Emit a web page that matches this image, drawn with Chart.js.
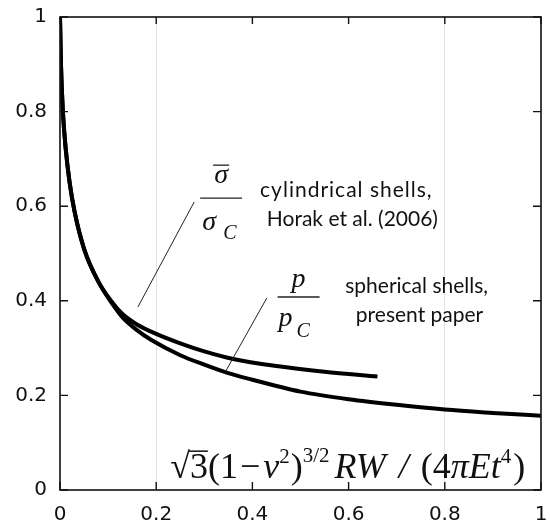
<!DOCTYPE html>
<html>
<head>
<meta charset="utf-8">
<script src="https://cdn.jsdelivr.net/npm/chart.js@4"></script>
<style>
  html, body { margin: 0; padding: 0; background: #fff; }
  #wrap { width: 550px; height: 530px; }
</style>
</head>
<body>
<div id="wrap"><canvas id="shellChart"></canvas></div>
<script>
// values
const xCyl = [0, 0.002, 0.006, 0.012, 0.02, 0.03, 0.05, 0.08, 0.11, 0.13, 0.16, 0.2, 0.25, 0.3, 0.36, 0.45, 0.55, 0.66];
const yCyl = [1, 0.9, 0.8, 0.72, 0.65, 0.59, 0.51, 0.44, 0.395, 0.372, 0.35, 0.33, 0.31, 0.293, 0.277, 0.262, 0.25, 0.24];
const xSph = [0, 0.002, 0.006, 0.012, 0.02, 0.03, 0.05, 0.08, 0.11, 0.13, 0.16, 0.19, 0.25, 0.3, 0.35, 0.4, 0.45, 0.5, 0.6, 0.7, 0.8, 0.9, 1];
const ySph = [1, 0.9, 0.8, 0.72, 0.65, 0.59, 0.51, 0.44, 0.392, 0.365, 0.338, 0.317, 0.285, 0.265, 0.247, 0.233, 0.22, 0.208, 0.192, 0.18, 0.17, 0.163, 0.157];
const gridAt = [0.2, 0.8];

const cylText = ["cylindrical shells,", "Horak et al. (2006)"];
const sphText = ["spherical shells,", "present paper"];

function pts(xs, ys) {
  return xs.map((x, i) => ({ x: x, y: ys[i] }));
}

const serif = '"Liberation Serif", "Times New Roman", serif';
const sans = 'Lato, "Open Sans", sans-serif';

// draws a run of pieces [text, italic, size, rise, extra gap after]
function drawRun(ctx, x, y, pieces) {
  pieces.forEach(function (p) {
    ctx.font = (p[1] ? 'italic ' : '') + p[2] + 'px ' + serif;
    ctx.fillText(p[0], x, y - (p[3] || 0));
    x += ctx.measureText(p[0]).width + (p[4] || 0);
  });
  return x;
}

const decor = {
  id: 'decor',
  afterDatasetsDraw(chart) {
    const ctx = chart.ctx;
    const a = chart.chartArea;
    const xs = chart.scales.x, ys = chart.scales.y;
    const px = v => xs.getPixelForValue(v);
    const py = v => ys.getPixelForValue(v);
    ctx.save();
    ctx.strokeStyle = '#111';
    ctx.lineWidth = 1.6;
    ctx.strokeRect(a.left, a.top, a.right - a.left, a.bottom - a.top);
    // inward ticks on all four sides
    ctx.lineWidth = 1.4;
    xs.ticks.forEach(function (t) {
      const x = px(t.value);
      ctx.beginPath();
      ctx.moveTo(x, a.bottom); ctx.lineTo(x, a.bottom - 8);
      ctx.moveTo(x, a.top); ctx.lineTo(x, a.top + 7);
      ctx.stroke();
    });
    ys.ticks.forEach(function (t) {
      const y = py(t.value);
      ctx.beginPath();
      ctx.moveTo(a.left, y); ctx.lineTo(a.left + 8, y);
      ctx.moveTo(a.right, y); ctx.lineTo(a.right - 8, y);
      ctx.stroke();
    });

    // leader lines
    ctx.strokeStyle = '#222';
    ctx.lineWidth = 1;
    ctx.beginPath();
    ctx.moveTo(px(0.162), py(0.387)); ctx.lineTo(px(0.279), py(0.609));
    ctx.moveTo(px(0.345), py(0.252)); ctx.lineTo(px(0.430), py(0.406));
    ctx.stroke();

    ctx.fillStyle = '#111';
    ctx.textBaseline = 'alphabetic';

    // sigma-bar over sigma_C
    let cx = px(0.335), by = py(0.617);
    ctx.lineWidth = 1.3;
    ctx.beginPath(); ctx.moveTo(cx - 21, by); ctx.lineTo(cx + 21, by); ctx.stroke();
    ctx.font = 'italic 28px ' + serif;
    ctx.textAlign = 'center';
    ctx.fillText('σ', cx, by - 15);
    ctx.beginPath(); ctx.moveTo(cx - 8, by - 33); ctx.lineTo(cx + 8, by - 33); ctx.stroke();
    ctx.textAlign = 'left';
    ctx.fillText('σ', cx - 19, by + 32);
    ctx.font = 'italic 20px ' + serif;
    ctx.fillText('C', cx + 2, by + 41);

    // p over p_C
    cx = px(0.496); by = py(0.408);
    ctx.beginPath(); ctx.moveTo(cx - 21, by); ctx.lineTo(cx + 21, by); ctx.stroke();
    ctx.font = 'italic 28px ' + serif;
    ctx.textAlign = 'center';
    ctx.fillText('p', cx, by - 10);
    ctx.textAlign = 'left';
    ctx.fillText('p', cx - 20, by + 29);
    ctx.font = 'italic 20px ' + serif;
    ctx.fillText('C', cx - 2, by + 40);

    // descriptions
    ctx.font = '21px ' + sans;
    ctx.letterSpacing = '1px';
    ctx.fillText(cylText[0], px(0.416), py(0.619));
    ctx.letterSpacing = '0px';
    ctx.fillText(cylText[1], px(0.430), py(0.558));
    ctx.fillText(sphText[0], px(0.593), py(0.416));
    ctx.fillText(sphText[1], px(0.615), py(0.355));

    // x quantity formula
    const S = 36, s = 21;
    let fx = px(0.229), fy = py(0.025);
    ctx.font = S + 'px ' + serif;
    ctx.fillText('√', fx, fy);
    const rw = ctx.measureText('√').width;
    const tw = ctx.measureText('3').width;
    ctx.lineWidth = 1.6;
    ctx.beginPath(); ctx.moveTo(fx + rw - 2, fy - 27); ctx.lineTo(fx + rw + tw, fy - 27); ctx.stroke();
    drawRun(ctx, fx + rw, fy, [
      ['3', false, S], ['(1', false, S, 0, 2], ['\u2212', false, S, 0, 3], ['ν', true, S],
      ['2', false, s, 15, 1], [')', false, S], ['3/2', false, s, 16, 5], ['RW', true, S, 0, 4],
      [' / ', true, S, 0, 3], ['(4', false, S], ['π', true, S], ['Et', true, S],
      ['4', false, s, 15, 2], [')', false, S]
    ]);
    ctx.restore();
  }
};

const tickFmt = v => String(Math.round(v * 10) / 10);

new Chart(document.getElementById('shellChart'), {
  type: 'scatter',
  data: {
    datasets: [
      {
        label: 'cylindrical shells',
        data: pts(xCyl, yCyl),
        showLine: true,
        borderColor: '#000',
        borderWidth: 4,
        pointRadius: 0,
        cubicInterpolationMode: 'monotone'
      },
      {
        label: 'spherical shells',
        data: pts(xSph, ySph),
        showLine: true,
        borderColor: '#000',
        borderWidth: 4,
        pointRadius: 0,
        cubicInterpolationMode: 'monotone'
      }
    ]
  },
  options: {
    responsive: true,
    maintainAspectRatio: false,
    animation: false,
    layout: { padding: { top: 17, right: 9, left: 0, bottom: 0 } },
    plugins: {
      legend: { display: false },
      tooltip: { enabled: false }
    },
    scales: {
      x: {
        type: 'linear',
        min: 0,
        max: 1,
        afterFit: function (scale) {
          scale.height = 40;
          scale.paddingLeft = 0;
          scale.paddingRight = 0;
        },
        border: { display: false },
        grid: {
          drawTicks: false,
          color: ctx => (ctx.tick && gridAt.includes(Math.round(ctx.tick.value * 10) / 10)) ? '#e2e2e2' : 'rgba(0,0,0,0)'
        },
        ticks: {
          stepSize: 0.2,
          padding: 13,
          color: '#111',
          callback: tickFmt,
          font: { family: '"DejaVu Sans"', size: 20 }
        }
      },
      y: {
        min: 0,
        max: 1,
        afterFit: function (scale) {
          scale.width = 60;
          scale.paddingTop = 0;
          scale.paddingBottom = 0;
        },
        border: { display: false },
        grid: { display: false, drawTicks: false },
        ticks: {
          stepSize: 0.2,
          padding: 13,
          color: '#111',
          callback: tickFmt,
          font: { family: '"DejaVu Sans"', size: 20 }
        }
      }
    }
  },
  plugins: [decor]
});
</script>
</body>
</html>
